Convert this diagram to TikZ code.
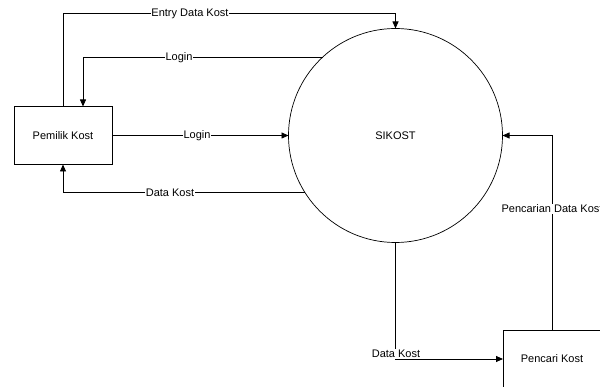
\documentclass[tikz,border=0pt]{standalone}
\usepackage{fontspec}
\setmainfont{Liberation Sans}
\usetikzlibrary{arrows.meta,calc}
\begin{document}
\begin{tikzpicture}[x=1pt,y=-1pt,
  font=\fontsize{11}{13}\selectfont,
  box/.style={draw, line width=0.8pt, minimum width=98pt, minimum height=58pt, inner sep=0pt, outer sep=0pt},
  proc/.style={draw, line width=0.7pt, circle, minimum size=214pt, inner sep=0pt, outer sep=0pt},
  flow/.style={draw, line width=0.8pt, -{Triangle[length=7pt,width=6pt]}},
  lbl/.style={fill=white, inner sep=0.8pt}]
\useasboundingbox (0,0) rectangle (600,387);
\clip (0,0) rectangle (600,387);
\node[box] (pemilik) at (63,135.5) {Pemilik Kost};
\node[proc] (sikost) at (395.5,135.5) {SIKOST};
\node[box] (pencari) at (552,359) {Pencari Kost};
% Entry Data Kost
\coordinate (topin) at ($(sikost.north)+(0,-15)$);
\draw[flow] (pemilik.north) |- (topin) -- (sikost.north);
\node[lbl] (l1) at (190,14) {Entry Data Kost};
% Login (to Pemilik)
\coordinate (loginin) at ($(pemilik.north)+(20,0)$);
\draw[flow] (sikost.133.2) -| (loginin);
\node[lbl] (l2) at (179,58) {Login};
% Login (to SIKOST)
\draw[flow] (pemilik.east) -- (sikost.west);
\node[lbl] (l3) at (197,135.5) {Login};
% Data Kost (to Pemilik)
\draw[flow] (sikost.212.2) -| (pemilik.south);
\node[lbl] (l4) at (170,193) {Data Kost};
% Pencarian Data Kost
\draw[flow] (pencari.north) |- (sikost.east);
\node[lbl] (l5) at (552,209) {Pencarian Data Kost};
% Data Kost (to Pencari)
\draw[flow] (sikost.south) |- (pencari.west);
\node[lbl] (l6) at (396,354) {Data Kost};
\end{tikzpicture}
\end{document}
